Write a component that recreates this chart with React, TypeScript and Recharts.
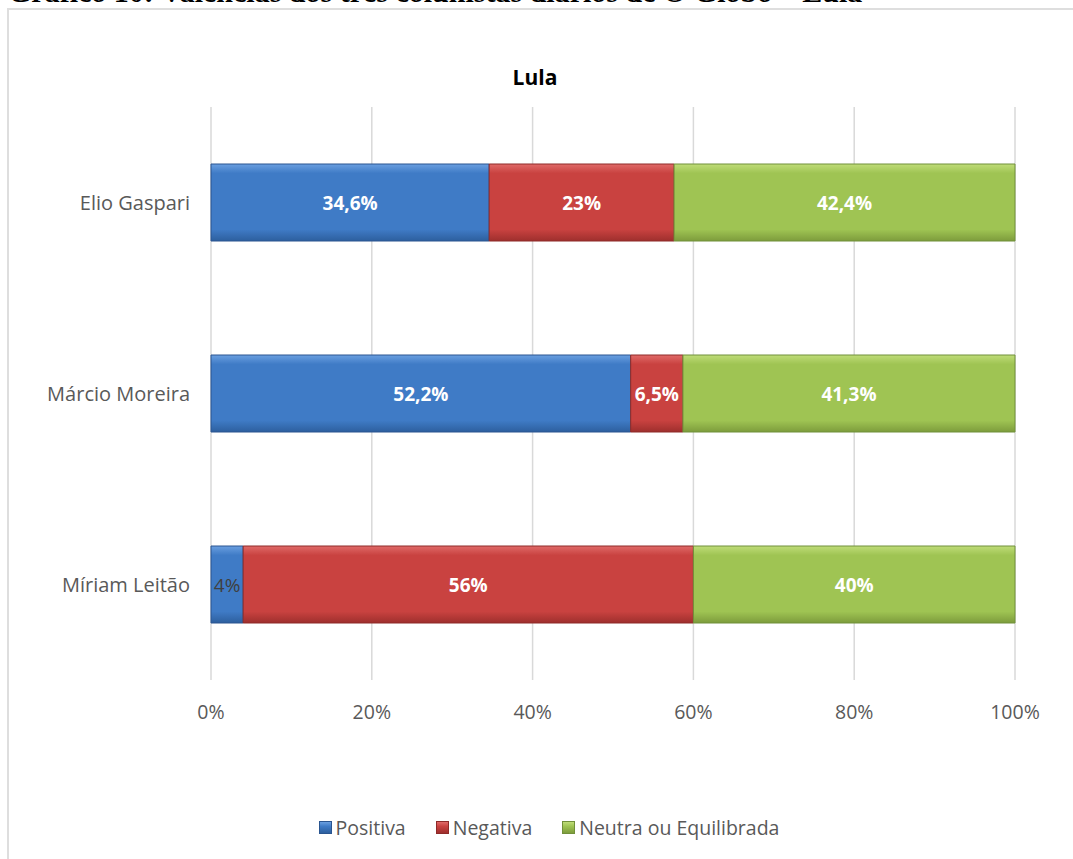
import { BarChart, Bar, XAxis, YAxis, CartesianGrid, LabelList } from 'recharts'

const colunistas = ['Elio Gaspari', 'Márcio Moreira', 'Míriam Leitão']
const positiva = [34.6, 52.2, 4]
const negativa = [23, 6.5, 56]
const neutra = [42.4, 41.3, 40]
const xTicks = [0, 20, 40, 60, 80, 100]

const data = colunistas.map((name, i) => ({
    name,
    positiva: positiva[i],
    negativa: negativa[i],
    neutra: neutra[i],
}))

const series = [
    { key: 'positiva', label: 'Positiva', grad: 'gPos', top: '#6a9fe0', mid: '#3f7bc6', bot: '#2d5f9e', stroke: '#2a5590' },
    { key: 'negativa', label: 'Negativa', grad: 'gNeg', top: '#e06a68', mid: '#c94240', bot: '#9e2f2d', stroke: '#8e2a28' },
    { key: 'neutra', label: 'Neutra ou Equilibrada', grad: 'gNeu', top: '#bfdc78', mid: '#9fc453', bot: '#7d9c3c', stroke: '#71903a' },
]

const font = "'Open Sans', sans-serif"
const fmt = (v: number) => String(v).replace('.', ',') + '%'

const renderLabel = (props: any) => {
    const { x, y, width, height, value } = props
    const small = value < 5
    return (
        <text
            x={x + width / 2}
            y={y + height / 2}
            textAnchor="middle"
            dominantBaseline="central"
            fill={small ? '#404040' : '#ffffff'}
            fontWeight={small ? 400 : 700}
            fontSize={19}
            fontFamily={font}
        >
            {fmt(value)}
        </text>
    )
}

export default function App() {
    return (
        <div style={{ position: 'absolute', left: 0, top: 0, width: 1073, height: 859, background: '#fff', overflow: 'hidden' }}>
            <div style={{
                position: 'absolute', left: 8, top: -23, whiteSpace: 'nowrap',
                fontFamily: "'Liberation Serif', serif", fontWeight: 700, fontSize: 30, lineHeight: '30px', color: '#000',
            }}>
                Gráfico 10: Valências dos três colunistas diários de O Globo – Lula
            </div>
            <div style={{ position: 'absolute', left: 7, top: 8, width: 1080, height: 870, border: '2px solid #dedede', boxSizing: 'border-box', background: '#fff' }} />
            <div style={{
                position: 'absolute', left: 7, width: 1056, top: 63, textAlign: 'center',
                fontFamily: font, fontWeight: 700, fontSize: 21, color: '#000',
            }}>
                Lula
            </div>
            <div style={{ position: 'absolute', left: 0, top: 0 }}>
                <BarChart
                    width={1073}
                    height={859}
                    data={data}
                    layout="vertical"
                    margin={{ top: 107, right: 58, bottom: 139, left: 0 }}
                    barCategoryGap={57}
                >
                    <defs>
                        {series.map(s => (
                            <linearGradient key={s.grad} id={s.grad} x1="0" y1="0" x2="0" y2="1">
                                <stop offset="0%" stopColor={s.top} />
                                <stop offset="12%" stopColor={s.mid} />
                                <stop offset="85%" stopColor={s.mid} />
                                <stop offset="100%" stopColor={s.bot} />
                            </linearGradient>
                        ))}
                    </defs>
                    <CartesianGrid horizontal={false} stroke="#d9d9d9" strokeWidth={1.5} />
                    <XAxis
                        type="number"
                        domain={[0, 100]}
                        ticks={xTicks}
                        tickFormatter={(v: number) => v + '%'}
                        axisLine={false}
                        tickLine={false}
                        tickMargin={19}
                        height={40}
                        tick={{ fill: '#595959', fontSize: 19.5, fontFamily: font }}
                    />
                    <YAxis
                        type="category"
                        dataKey="name"
                        width={211}
                        axisLine={false}
                        tickLine={false}
                        tickMargin={15}
                        tick={{ fill: '#595959', fontSize: 20, fontFamily: font }}
                    />
                    {series.map(s => (
                        <Bar
                            key={s.key}
                            dataKey={s.key}
                            stackId="a"
                            fill={`url(#${s.grad})`}
                            stroke={s.stroke}
                            strokeWidth={1}
                            isAnimationActive={false}
                        >
                            <LabelList dataKey={s.key} content={renderLabel} />
                        </Bar>
                    ))}
                </BarChart>
            </div>
            <div style={{
                position: 'absolute', left: 21, width: 1056, top: 814, display: 'flex', justifyContent: 'center', gap: 30,
                fontFamily: font, fontSize: 19.5, color: '#595959',
            }}>
                {series.map(s => (
                    <div key={s.key} style={{ display: 'flex', alignItems: 'center', gap: 4 }}>
                        <span style={{
                            display: 'inline-block', width: 13, height: 13, boxSizing: 'border-box',
                            background: `linear-gradient(180deg, ${s.top} 0%, ${s.mid} 40%, ${s.bot} 100%)`,
                            border: `1px solid ${s.stroke}`,
                        }} />
                        <span>{s.label}</span>
                    </div>
                ))}
            </div>
        </div>
    )
}
